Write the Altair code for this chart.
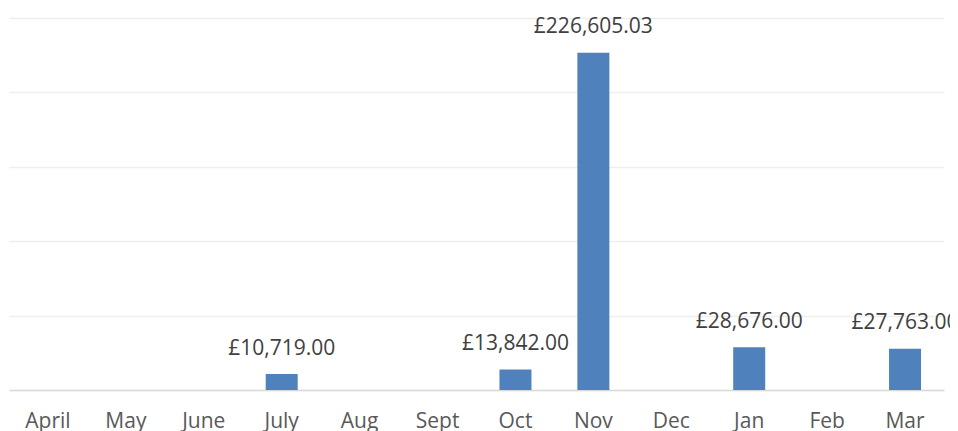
import altair as alt
import pandas as pd

months = ["April", "May", "June", "July", "Aug", "Sept", "Oct", "Nov", "Dec", "Jan", "Feb", "Mar"]
values = [None, None, None, 10719.00, None, None, 13842.00, 226605.03, None, 28676.00, None, 27763.00]

df = pd.DataFrame({"month": months, "value": values})

FONT = "Open Sans"

x = alt.X(
    "month:N",
    sort=months,
    title=None,
    scale=alt.Scale(paddingInner=0, paddingOuter=0),
    axis=alt.Axis(
        labelAngle=0,
        labelFont=FONT,
        labelFontSize=21,
        labelColor="#595959",
        labelPadding=20,
        ticks=False,
        tickSize=0,
        domainColor="#d9d9d9",
        domainWidth=1.5,
        grid=False,
    ),
)

y = alt.Y(
    "value:Q",
    title=None,
    scale=alt.Scale(domain=[0, 250000], nice=False),
    axis=alt.Axis(
        values=[0, 50000, 100000, 150000, 200000, 250000],
        labels=False,
        ticks=False,
        domain=False,
        grid=True,
        gridColor="#eeeeee",
        gridWidth=1.5,
    ),
)

base = alt.Chart(df)

bars = base.mark_bar(size=32, color="#4f81bd").encode(x=x, y=y)

labels = (
    base.transform_filter("isValid(datum.value)")
    .transform_calculate(label="'£' + format(datum.value, ',.2f')")
    .mark_text(font=FONT, fontSize=21, color="#404040", baseline="alphabetic", dy=-19.5)
    .encode(x=alt.X("month:N", sort=months), y=alt.Y("value:Q"), text="label:N")
)

chart = (
    alt.layer(bars, labels)
    .properties(
        width=935,
        height=372,
        background="white",
        autosize=alt.AutoSizeParams(type="none"),
        padding={"left": 1, "top": 10, "right": 6, "bottom": 41},
    )
    .configure_view(strokeWidth=0, stroke="transparent")
)

chart.save("out.html", embed_options={"renderer": "svg", "actions": False})
